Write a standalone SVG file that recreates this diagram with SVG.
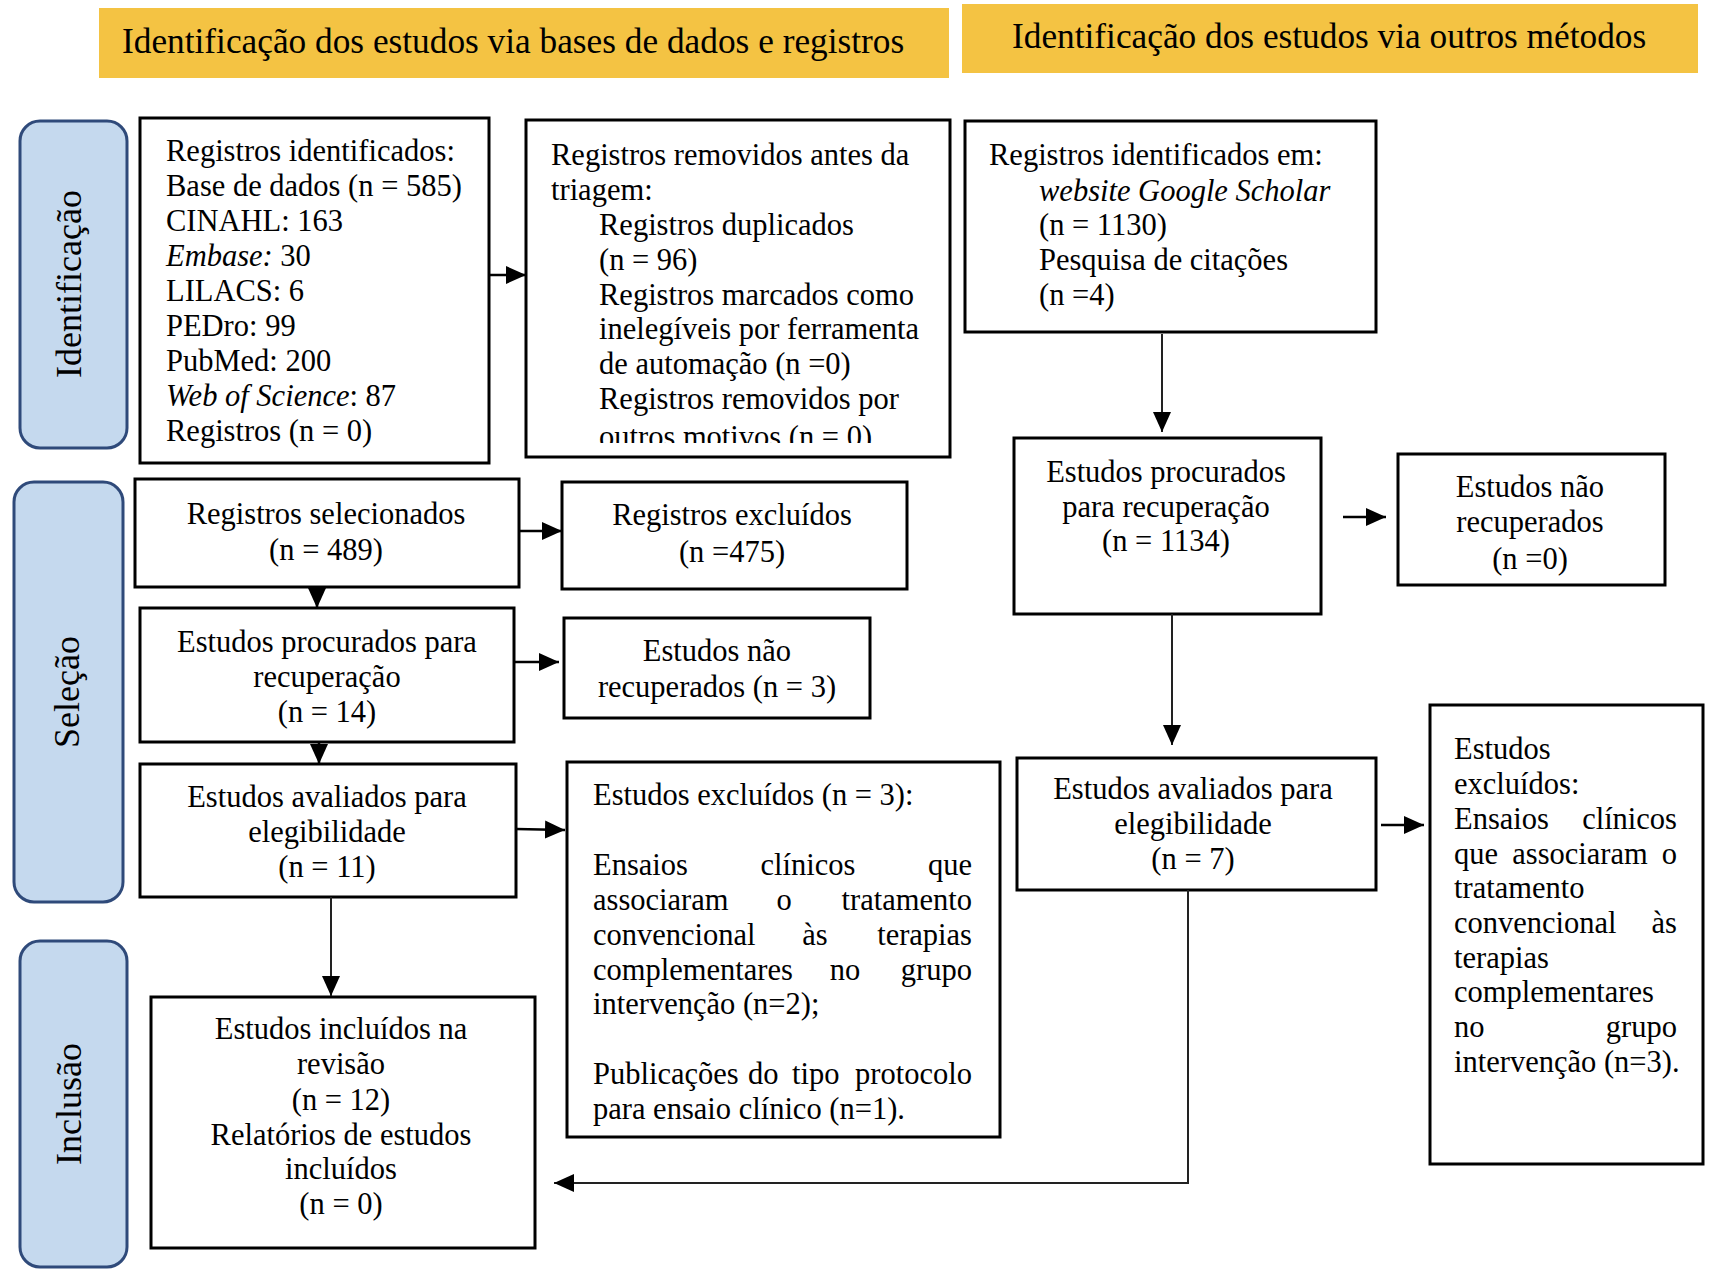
<svg xmlns="http://www.w3.org/2000/svg" width="1718" height="1280" viewBox="0 0 1718 1280">
<style>
text{font-family:"Liberation Serif","Times New Roman",serif;fill:#000}
.t{font-size:30.5px}
.c{text-anchor:middle}
.e{text-anchor:end}
.ban{fill:#F4C343}
.banT{font-size:35.3px}
.lane{fill:#C5D9EE;stroke:#2F4A7A;stroke-width:3}
.laneT{font-size:36px;text-anchor:middle}
.box{fill:#fff;stroke:#000;stroke-width:3}
.ln{fill:none;stroke:#000;stroke-width:2.5}
.ln2{fill:none;stroke:#222;stroke-width:2}
</style>
<defs>
<marker id="arr" viewBox="0 0 20 20" refX="20" refY="10" markerWidth="20" markerHeight="20" markerUnits="userSpaceOnUse" orient="auto">
<path d="M0,1 L20,10 L0,19 z" fill="#000"/>
</marker>
<clipPath id="clip2"><rect x="526" y="120" width="424" height="323"/></clipPath>
</defs>
<rect width="1718" height="1280" fill="#fff"/>

<g id="banner1"><rect class="ban" x="99" y="8" width="850" height="70"/><text class="banT" x="122" y="53">Identificação dos estudos via bases de dados e registros</text></g>
<g id="banner2"><rect class="ban" x="962" y="4" width="736" height="69"/><text class="banT" x="1012" y="48">Identificação dos estudos via outros métodos</text></g>

<g id="lane1"><rect class="lane" x="20" y="121" width="107" height="327" rx="20"/><text class="laneT" transform="translate(81,284) rotate(-90)">Identificação</text></g>
<g id="lane2"><rect class="lane" x="14" y="482" width="109" height="420" rx="20"/><text class="laneT" transform="translate(79,692) rotate(-90)">Seleção</text></g>
<g id="lane3"><rect class="lane" x="20" y="941" width="107" height="326" rx="20"/><text class="laneT" transform="translate(81,1104) rotate(-90)">Inclusão</text></g>

<g id="n1"><rect class="box" x="140" y="118" width="349" height="345"/>
<text class="t" x="166" y="161">Registros identificados:</text>
<text class="t" x="166" y="196">Base de dados (n = 585)</text>
<text class="t" x="166" y="231">CINAHL: 163</text>
<text class="t" x="166" y="266"><tspan font-style="italic">Embase:</tspan> 30</text>
<text class="t" x="166" y="301">LILACS: 6</text>
<text class="t" x="166" y="336">PEDro: 99</text>
<text class="t" x="166" y="371">PubMed: 200</text>
<text class="t" x="166" y="406"><tspan font-style="italic">Web of Science</tspan>: 87</text>
<text class="t" x="166" y="441">Registros (n = 0)</text>
</g>

<g id="n2"><rect class="box" x="526" y="120" width="424" height="337"/>
<g clip-path="url(#clip2)">
<text class="t" x="551" y="165">Registros removidos antes da</text>
<text class="t" x="551" y="200">triagem:</text>
<text class="t" x="599" y="235">Registros duplicados</text>
<text class="t" x="599" y="270">(n = 96)</text>
<text class="t" x="599" y="305">Registros marcados como</text>
<text class="t" x="599" y="339">inelegíveis por ferramenta</text>
<text class="t" x="599" y="374">de automação (n =0)</text>
<text class="t" x="599" y="409">Registros removidos por</text>
<text class="t" x="599" y="447">outros motivos (n = 0)</text>
</g>
</g>

<g id="n3"><rect class="box" x="965" y="121" width="411" height="211"/>
<text class="t" x="989" y="165">Registros identificados em:</text>
<text class="t" x="1039" y="201" font-style="italic">website Google Scholar</text>
<text class="t" x="1039" y="235">(n = 1130)</text>
<text class="t" x="1039" y="270">Pesquisa de citações</text>
<text class="t" x="1039" y="305">(n =4)</text>
</g>

<g id="n4"><rect class="box" x="135" y="479" width="384" height="108"/>
<text class="t c" x="326" y="524">Registros selecionados</text>
<text class="t c" x="326" y="560">(n = 489)</text>
</g>

<g id="n5"><rect class="box" x="562" y="482" width="345" height="107"/>
<text class="t c" x="732" y="525">Registros excluídos</text>
<text class="t c" x="732" y="562">(n =475)</text>
</g>

<g id="n6"><rect class="box" x="140" y="608" width="374" height="134"/>
<text class="t c" x="327" y="652">Estudos procurados para</text>
<text class="t c" x="327" y="687">recuperação</text>
<text class="t c" x="327" y="722">(n = 14)</text>
</g>

<g id="n7"><rect class="box" x="564" y="618" width="306" height="100"/>
<text class="t c" x="717" y="661">Estudos não</text>
<text class="t c" x="717" y="697">recuperados (n = 3)</text>
</g>

<g id="n8"><rect class="box" x="140" y="764" width="376" height="133"/>
<text class="t c" x="327" y="807">Estudos avaliados para</text>
<text class="t c" x="327" y="842">elegibilidade</text>
<text class="t c" x="327" y="877">(n = 11)</text>
</g>

<g id="n9"><rect class="box" x="567" y="762" width="433" height="375"/>
<text class="t" x="593" y="805">Estudos excluídos (n = 3):</text>
<text class="t" x="593" y="875">Ensaios</text><text class="t c" x="808" y="875">clínicos</text><text class="t e" x="972" y="875">que</text>
<text class="t" x="593" y="910">associaram</text><text class="t c" x="784" y="910">o</text><text class="t e" x="972" y="910">tratamento</text>
<text class="t" x="593" y="945">convencional</text><text class="t c" x="815" y="945">às</text><text class="t e" x="972" y="945">terapias</text>
<text class="t" x="593" y="980">complementares</text><text class="t c" x="845" y="980">no</text><text class="t e" x="972" y="980">grupo</text>
<text class="t" x="593" y="1014">intervenção (n=2);</text>
<text class="t" x="593" y="1084">Publicações</text><text class="t" x="748" y="1084">do</text><text class="t" x="792" y="1084">tipo</text><text class="t e" x="972" y="1084">protocolo</text>
<text class="t" x="593" y="1119">para ensaio clínico (n=1).</text>
</g>

<g id="n10"><rect class="box" x="1014" y="438" width="307" height="176"/>
<text class="t c" x="1166" y="482">Estudos procurados</text>
<text class="t c" x="1166" y="517">para recuperação</text>
<text class="t c" x="1166" y="551">(n = 1134)</text>
</g>

<g id="n11"><rect class="box" x="1398" y="454" width="267" height="131"/>
<text class="t c" x="1530" y="497">Estudos não</text>
<text class="t c" x="1530" y="532">recuperados</text>
<text class="t c" x="1530" y="569">(n =0)</text>
</g>

<g id="n12"><rect class="box" x="1017" y="758" width="359" height="132"/>
<text class="t c" x="1193" y="799">Estudos avaliados para</text>
<text class="t c" x="1193" y="834">elegibilidade</text>
<text class="t c" x="1193" y="869">(n = 7)</text>
</g>

<g id="n13"><rect class="box" x="1430" y="705" width="273" height="459"/>
<text class="t" x="1454" y="759">Estudos</text>
<text class="t" x="1454" y="794">excluídos:</text>
<text class="t" x="1454" y="829">Ensaios</text><text class="t e" x="1677" y="829">clínicos</text>
<text class="t" x="1454" y="864">que</text><text class="t c" x="1580" y="864">associaram</text><text class="t e" x="1677" y="864">o</text>
<text class="t" x="1454" y="898">tratamento</text>
<text class="t" x="1454" y="933">convencional</text><text class="t e" x="1677" y="933">às</text>
<text class="t" x="1454" y="968">terapias</text>
<text class="t" x="1454" y="1002">complementares</text>
<text class="t" x="1454" y="1037">no</text><text class="t e" x="1677" y="1037">grupo</text>
<text class="t" x="1454" y="1072">intervenção (n=3).</text>
</g>

<g id="n14"><rect class="box" x="151" y="997" width="384" height="251"/>
<text class="t c" x="341" y="1039">Estudos incluídos na</text>
<text class="t c" x="341" y="1074">revisão</text>
<text class="t c" x="341" y="1110">(n = 12)</text>
<text class="t c" x="341" y="1145">Relatórios de estudos</text>
<text class="t c" x="341" y="1179">incluídos</text>
<text class="t c" x="341" y="1214">(n = 0)</text>
</g>

<g id="connectors">
<path class="ln" d="M490,275 H526" marker-end="url(#arr)"/>
<path class="ln2" d="M1162,334 V432" marker-end="url(#arr)"/>
<path class="ln" d="M519,531 H562" marker-end="url(#arr)"/>
<path class="ln" d="M317,587 V608" marker-end="url(#arr)"/>
<path class="ln" d="M514,662 H559" marker-end="url(#arr)"/>
<path class="ln" d="M319,742 V764" marker-end="url(#arr)"/>
<path class="ln" d="M516,829 L565,830" marker-end="url(#arr)"/>
<path class="ln2" d="M331,897 V996" marker-end="url(#arr)"/>
<path class="ln2" d="M1188,890 V1183 H554" marker-end="url(#arr)"/>
<path class="ln" d="M1343,517 H1386" marker-end="url(#arr)"/>
<path class="ln2" d="M1172,614 V745" marker-end="url(#arr)"/>
<path class="ln" d="M1381,825 H1424" marker-end="url(#arr)"/>
</g>
</svg>
